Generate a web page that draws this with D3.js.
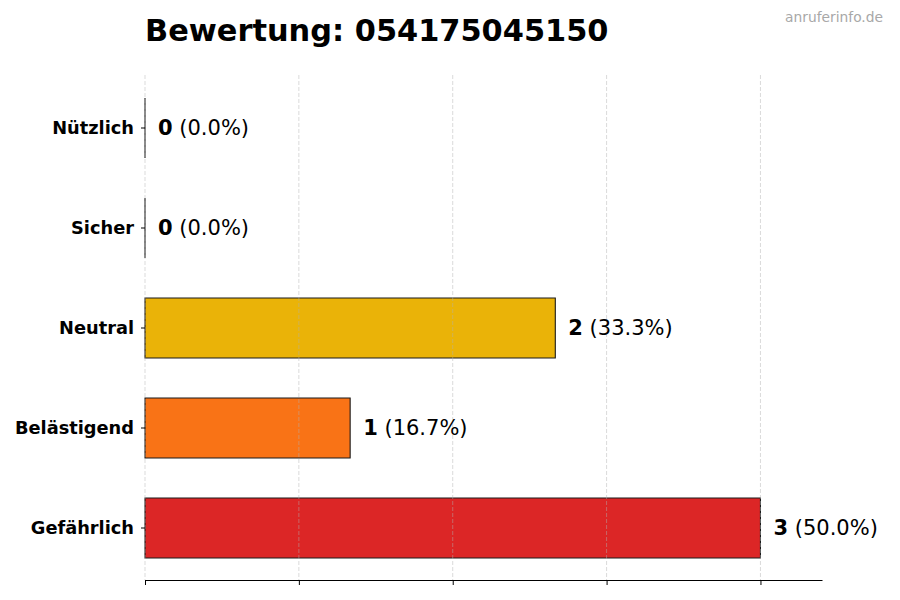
<!DOCTYPE html>
<html>
<head>
<meta charset="utf-8">
<script src="https://cdn.jsdelivr.net/npm/d3@7"></script>
<style>
  body { margin: 0; background: #fff; }
  svg { font-family: "DejaVu Sans", sans-serif; }
</style>
</head>
<body>
<div id="chart"></div>
<script>
// Chart data
var categories = ["Nützlich", "Sicher", "Neutral", "Belästigend", "Gefährlich"];
var counts = [0, 0, 2, 1, 3];
var barColors = ["#16a34a", "#22c55e", "#eab308", "#f97316", "#dc2626"];
var xTicks = [0, 0.75, 1.5, 2.25, 3];
var titleText = "Bewertung: 054175045150";
var sourceText = "anruferinfo.de";

var total = d3.sum(counts);
var rows = categories.map(function(c, i) {
    return { name: c, value: counts[i], color: barColors[i] };
});

var width = 900, height = 600;
var plot = { left: 145, right: 822, top: 78, bottom: 578, axisY: 580 };

var svg = d3.select("#chart")
    .append("svg")
        .attr("width", width)
        .attr("height", height);

var x = d3.scaleLinear().domain([0, 3.3]).range([plot.left, plot.right]);
var y = d3.scaleBand()
    .domain(categories)
    .range([plot.top, plot.bottom])
    .paddingInner(0.4)
    .paddingOuter(0.2);

// Bars as paths, so zero-width bars still show their outline
svg.append("g")
    .selectAll("path")
    .data(rows)
    .enter().append("path")
        .attr("d", function(d) {
            var x0 = x(0), w = x(d.value) - x(0), y0 = y(d.name), h = y.bandwidth();
            return "M" + x0 + "," + y0 + "h" + w + "v" + h + "h" + (-w) + "Z";
        })
        .attr("fill", function(d) { return d.color; })
        .attr("stroke", "#1a1a1a")
        .attr("stroke-width", 1.1);

// Vertical grid (drawn above bars, light dashed)
svg.append("g")
    .selectAll("line")
    .data(xTicks)
    .enter().append("line")
        .attr("x1", function(d) { return x(d); })
        .attr("x2", function(d) { return x(d); })
        .attr("y1", 75)
        .attr("y2", plot.axisY)
        .attr("stroke", "#b0b0b0")
        .attr("stroke-opacity", 0.6)
        .attr("stroke-width", 0.8)
        .attr("stroke-dasharray", "4,2");

// X axis without labels
var xAxis = svg.append("g")
    .attr("transform", "translate(0," + plot.axisY + ")")
    .call(d3.axisBottom(x).tickValues(xTicks).tickFormat("").tickSize(5).tickSizeOuter(0));
xAxis.select(".domain").attr("stroke", "#000").attr("stroke-width", 1.2);
xAxis.selectAll(".tick line").attr("stroke", "#000").attr("stroke-width", 1);

// Y axis: ticks and bold labels, no spine
var yAxis = svg.append("g")
    .attr("transform", "translate(" + plot.left + ",0)")
    .call(d3.axisLeft(y).tickSize(4).tickPadding(7));
yAxis.select(".domain").remove();
yAxis.selectAll(".tick line").attr("stroke", "#000");
yAxis.selectAll(".tick text")
    .attr("font-family", "DejaVu Sans")
    .attr("font-size", "17.8px")
    .attr("font-weight", "bold")
    .attr("dy", "0.36em")
    .attr("fill", "#000");

// Value labels
var labels = svg.append("g")
    .selectAll("text")
    .data(rows)
    .enter().append("text")
        .attr("x", function(d) { return x(d.value) + 13; })
        .attr("y", function(d) { return y(d.name) + y.bandwidth() / 2; })
        .attr("dy", "0.35em")
        .attr("font-size", "21px")
        .attr("fill", "#000");

labels.append("tspan")
    .attr("font-weight", "bold")
    .text(function(d) { return d.value; });
labels.append("tspan")
    .text(function(d) { return " (" + (d.value / total * 100).toFixed(1) + "%)"; });

// Title
svg.append("text")
    .attr("x", plot.left)
    .attr("y", 41)
    .attr("font-size", "30.4px")
    .attr("font-weight", "bold")
    .attr("fill", "#000")
    .text(titleText);

// Source watermark
svg.append("text")
    .attr("x", 883)
    .attr("y", 22)
    .attr("text-anchor", "end")
    .attr("font-size", "13.8px")
    .attr("fill", "#a8a8a8")
    .text(sourceText);
</script>
</body>
</html>
